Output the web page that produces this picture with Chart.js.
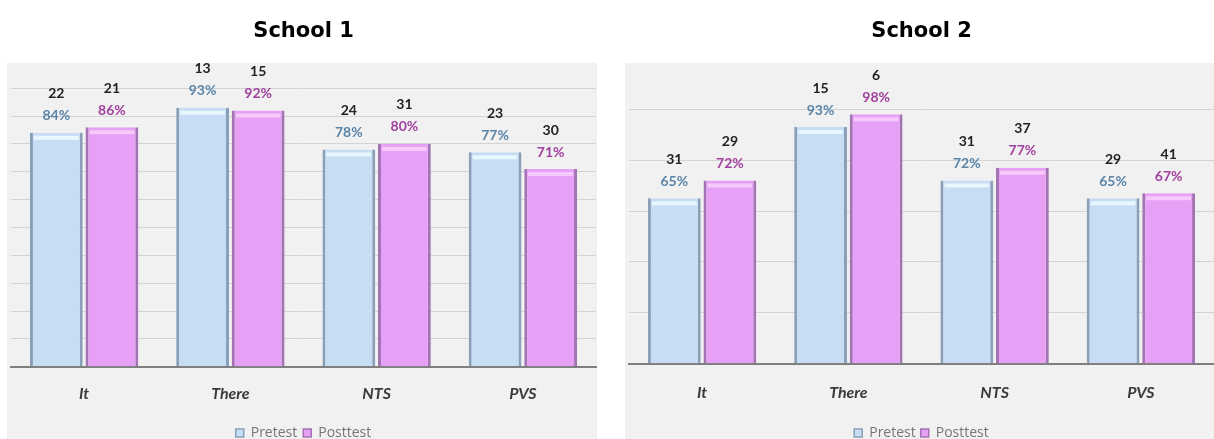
<!DOCTYPE html>
<html>
<head>
<meta charset="utf-8">
<script src="https://cdn.jsdelivr.net/npm/chart.js@4/dist/chart.umd.min.js"></script>
<style>
  html, body { margin: 0; padding: 0; background: #fff; }
  body { width: 1214px; height: 439px; overflow: hidden; position: relative; }
  .box { position: absolute; top: 0; }
</style>
</head>
<body>
<div class="box" style="left:0"><canvas id="school1" width="604" height="439"></canvas></div>
<div class="box" style="left:618px"><canvas id="school2" width="604" height="439"></canvas></div>
<script>
const categories = ["It", "There", "NTS", "PVS"];
const seriesNames = ["Pretest", "Posttest"];

// percentages (bar heights)
const school1Pre = [84, 93, 78, 77];
const school1Post = [86, 92, 80, 71];
const school2Pre = [65, 93, 72, 65];
const school2Post = [72, 98, 77, 67];

// counts shown above the percentages
const school1PreN = [22, 13, 24, 23];
const school1PostN = [21, 15, 31, 30];
const school2PreN = [31, 15, 31, 29];
const school2PostN = [29, 6, 37, 41];

const preFill = "#c6ddf3", preEdge = "#8aa0b8";
const postFill = "#e6a1f6", postEdge = "#a473b3";

// grey panel behind each chart
const panelBg = {
  id: "panelBg",
  beforeDraw(chart, args, opts) {
    const ctx = chart.ctx;
    ctx.save();
    ctx.fillStyle = "#f1f1f1";
    ctx.fillRect(opts.left, opts.top, opts.right - opts.left, chart.height - opts.top);
    ctx.restore();
  }
};

// light top cap on each bar + two-line value labels
const barLabels = {
  id: "barLabels",
  afterDatasetsDraw(chart, args, opts) {
    const ctx = chart.ctx;
    ctx.save();
    chart.data.datasets.forEach((ds, i) => {
      const meta = chart.getDatasetMeta(i);
      meta.data.forEach((bar, j) => {
        const w = bar.width;
        ctx.fillStyle = i === 0 ? "rgba(235,248,255,0.9)" : "rgba(248,205,252,0.9)";
        ctx.fillRect(bar.x - w / 2 + 4, bar.y + 3, w - 8, 4);

        ctx.textAlign = "center";
        ctx.textBaseline = "middle";
        ctx.font = "bold 14px Lato";
        ctx.fillStyle = i === 0 ? "#5a84a8" : "#a2409f";
        ctx.fillText(ds.data[j] + "%", bar.x, bar.y - opts.pctGap);
        ctx.fillStyle = "#222";
        ctx.fillText(String(ds.counts[j]), bar.x, bar.y - opts.countGap);
      });
    });
    ctx.restore();
  }
};

function makeChart(id, title, pre, post, preN, postN, step, titleGap, tickPad, legPad, panelRight) {
  return new Chart(document.getElementById(id), {
    type: "bar",
    data: {
      labels: categories,
      datasets: [
        {
          label: seriesNames[0], data: pre, counts: preN,
          backgroundColor: preFill, borderColor: preEdge,
          borderWidth: { left: 3, right: 3, top: 0, bottom: 0 },
          categoryPercentage: 0.76, barPercentage: 0.95
        },
        {
          label: seriesNames[1], data: post, counts: postN,
          backgroundColor: postFill, borderColor: postEdge,
          borderWidth: { left: 3, right: 3, top: 0, bottom: 0 },
          categoryPercentage: 0.76, barPercentage: 0.95
        }
      ]
    },
    options: {
      responsive: false,
      animation: false,
      // legend sits partly below the visible edge, as in the original
      layout: { padding: { left: 11, right: 8, top: 0, bottom: -11 } },
      scales: {
        x: {
          grid: { display: false, drawTicks: false },
          border: { color: "#7f7f7f", width: 2 },
          ticks: {
            padding: tickPad,
            color: "#3a3a3a",
            font: { family: "Lato", size: 16, weight: "bold", style: "italic" }
          }
        },
        y: {
          min: 0, max: 100,
          border: { display: false },
          grid: { color: "#d3d3d3", lineWidth: 1, drawTicks: false },
          ticks: { display: false, stepSize: step }
        }
      },
      plugins: {
        title: {
          display: true, text: title, color: "#000",
          font: { family: "DejaVu Sans", size: 21, weight: "bold" },
          padding: { top: 19, bottom: titleGap }
        },
        legend: {
          position: "bottom",
          labels: {
            boxWidth: 8, boxHeight: 8, padding: legPad,
            color: "#767676", font: { family: "Open Sans", size: 14 }
          }
        },
        tooltip: { enabled: false },
        panelBg: { left: 7, top: 63, right: panelRight },
        barLabels: { pctGap: 17, countGap: 39 }
      }
    },
    plugins: [panelBg, barLabels]
  });
}

makeChart("school1", "School 1", school1Pre, school1Post, school1PreN, school1PostN, 10, 44, 17, 6, 597);
makeChart("school2", "School 2", school2Pre, school2Post, school2PreN, school2PostN, 20, 65, 19, 5, 604);
</script>
</body>
</html>
